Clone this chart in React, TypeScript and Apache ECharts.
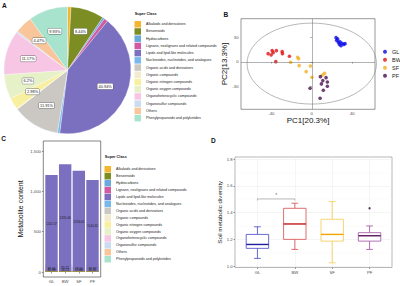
import React, { useEffect, useRef } from 'react';
import * as echarts from 'echarts';

const superClasses = [
  'Alkaloids and derivatives',
  'Benzenoids',
  'Hydrocarbons',
  'Lignans, neolignans and related compounds',
  'Lipids and lipid-like molecules',
  'Nucleosides, nucleotides, and analogues',
  'Organic acids and derivatives',
  'Organic compounds',
  'Organic nitrogen compounds',
  'Organic oxygen compounds',
  'Organoheterocyclic compounds',
  'Organosulfur compounds',
  'Others',
  'Phenylpropanoids and polyketides',
];
const classColors = [
  '#F3B62E', '#7C8D24', '#68A9DE', '#D15AA2', '#7B6FC0', '#78B9EC', '#CBC8C3',
  '#F2EBD0', '#F8F0A0', '#E7F1C8', '#F6C6E4', '#CADCF0', '#F9C69C', '#A8E3CE',
];
// Panel A: share of metabolites (%)
const pieShares = [0.9, 8.44, 0.5, 0.99, 40.94, 0.6, 11.91, 0.2, 2.98, 6.2, 11.17, 0.4, 4.47, 9.93];

// Panel C: metabolite content per group (superClasses order)
const groups = ['GL', 'BW', 'SF', 'PF'];
const contentGL = [3.5, 9, 1, 1.5, 1202.07, 1.5, 89.45, 2, 3, 8, 12, 2, 51.98, 3];
const contentBW = [4, 10, 1, 1.5, 1335.46, 1.6, 95.71, 2, 3, 9, 13, 2, 56.73, 3];
const contentSF = [3.5, 9, 1, 1.5, 1256.61, 1.5, 77.01, 2, 3, 8, 12, 2, 59.88, 3];
const contentPF = [3, 8, 1, 1.5, 1140.32, 1.4, 87.97, 2, 3, 8, 11, 2, 55.81, 3];
const labelledClasses = ['Lipids and lipid-like molecules', 'Organic acids and derivatives', 'Others'];

// Panel B: PCA scores
const pcaGL = [[24, 29.8], [24.6, 26.5], [26.3, 24], [27.3, 21.6], [28.9, 20], [29.9, 22.9], [31.6, 21.6], [32.9, 22.4], [27.9, 24.8], [25.6, 28.2]];
const pcaBW = [[-43.2, 10.2], [-39.2, 13.9], [-40.2, 8.6], [-38.2, 11.4], [-35, 13.9], [-29.3, 12.6], [-29, 10.2], [-22.1, 7], [-35.6, 0.4]];
const pcaSF = [[-14, 5.7], [-13, 4], [-21, -0.4], [-12.5, -4.5], [-5.6, -11.8], [-1.3, -4.9], [0.1, -18.8], [10.7, -15.9], [12.6, -13.9]];
const pcaPF = [[8.5, -18], [14.1, -19.2], [10.9, -22.8], [15.4, -24.5], [9.5, -26.9], [15.4, -29.8], [11.4, -34.7], [-1.7, -32.2], [8.2, -44.5]];
const pcaColors = ['#0A0AE6', '#DD1414', '#F2B01E', '#4B1050'];
const confEllipse = [[0, -2, 64, 49.6]]; // cx, cy, rx, ry

// Panel D: soil metabolic diversity boxplots [x, low, q1, median, q3, high]
const diversityBoxes = [
  [1, 1.058, 1.133, 1.162, 1.237, 1.294],
  [2, 1.125, 1.2, 1.315, 1.432, 1.47],
  [3, 1.025, 1.187, 1.237, 1.35, 1.482],
  [4, 1.125, 1.187, 1.227, 1.25, 1.3],
];
const diversityOutliers = [[4, 1.432]];
const boxColors = ['#4545C8', '#D84A4A', '#F5C94E', '#A14FA1'];
const medianColors = ['#1E1E9E', '#C41A1A', '#F0A400', '#5E145E'];
const sigBracket = [[1, 1.49], [1, 1.502], [2, 1.502], [2, 1.49]];
const sigStar = [[1.5, 1.528]];

const contentByGroup = [contentGL, contentBW, contentSF, contentPF];

export default function App() {
  const ref = useRef<HTMLDivElement>(null);
  useEffect(() => {
    if (!ref.current) return;
    const chart = echarts.init(ref.current, undefined, { renderer: 'svg' });
    const font = 'Liberation Sans';
    const tickLabel = { fontSize: 4.2, color: '#4D4D4D', fontFamily: font };
    const tickStyle = { show: true, length: 1.5, lineStyle: { color: '#333', width: 0.5 } };

    const barSeries: any[] = [];
    for (let k = superClasses.length - 1; k >= 0; k--) {
      const name = superClasses[k];
      const show = labelledClasses.indexOf(name) >= 0;
      barSeries.push({
        type: 'bar',
        name,
        xAxisIndex: 1,
        yAxisIndex: 1,
        stack: 'content',
        barWidth: 12.4,
        itemStyle: { color: classColors[k] },
        label: {
          show,
          position: 'inside',
          fontSize: 3.1,
          lineHeight: 3.2,
          color: '#222',
          formatter: (p: any) => p.value[1].toFixed(2),
        },
        data: groups.map((g, gi) => [gi + 1, contentByGroup[gi][k]]),
      });
    }

    const pcaSets = [pcaGL, pcaBW, pcaSF, pcaPF];
    const scatterSeries: any[] = pcaSets.map((d, i) => ({
      type: 'scatter',
      name: groups[i],
      xAxisIndex: 0,
      yAxisIndex: 0,
      symbolSize: 3.6,
      itemStyle: { color: pcaColors[i] },
      data: d,
      z: 4,
      ...(i === 0
        ? {
            markLine: {
              silent: true,
              symbol: ['none', 'none'],
              label: { show: false },
              lineStyle: { color: '#666', width: 0.5, type: 'solid' },
              data: [{ xAxis: 0 }, { yAxis: 0 }],
            },
          }
        : {}),
    }));

    const option: any = {
      animation: false,
      textStyle: { fontFamily: font },
      title: [
        { text: 'A', left: 2, top: 2, padding: 0, textStyle: { fontSize: 6.5, fontWeight: 'bold', color: '#111', fontFamily: font } },
        { text: 'B', left: 223.5, top: 11, padding: 0, textStyle: { fontSize: 6.5, fontWeight: 'bold', color: '#111', fontFamily: font } },
        { text: 'C', left: 1.3, top: 135, padding: 0, textStyle: { fontSize: 6.5, fontWeight: 'bold', color: '#111', fontFamily: font } },
        { text: 'D', left: 211, top: 136.5, padding: 0, textStyle: { fontSize: 6.5, fontWeight: 'bold', color: '#111', fontFamily: font } },
        { text: 'Super Class', left: 134.7, top: 11.8, padding: 0, textStyle: { fontSize: 3.8, fontWeight: 'bold', color: '#111', fontFamily: font } },
        { text: 'Super Class', left: 104.8, top: 154.5, padding: 0, textStyle: { fontSize: 3.8, fontWeight: 'bold', color: '#111', fontFamily: font } },
      ],
      legend: [
        {
          data: superClasses, orient: 'vertical', left: 134.5, top: 21, padding: 0,
          itemWidth: 6.5, itemHeight: 6.5, itemGap: 0.72, icon: 'rect', selectedMode: false,
          itemStyle: { borderWidth: 0 },
          textStyle: { fontSize: 3.6, lineHeight: 6.5, color: '#222', fontFamily: font },
        },
        {
          data: superClasses, orient: 'vertical', left: 104.5, top: 166, padding: 0,
          itemWidth: 6.5, itemHeight: 6.5, itemGap: 0.42, icon: 'rect', selectedMode: false,
          itemStyle: { borderWidth: 0 },
          textStyle: { fontSize: 3.6, lineHeight: 6.5, color: '#222', fontFamily: font },
        },
        {
          data: groups, orient: 'vertical', left: 383, top: 47.7, padding: 0,
          itemWidth: 4, itemHeight: 4, itemGap: 0, icon: 'circle', selectedMode: false,
          textStyle: { fontSize: 5.5, lineHeight: 8, color: '#222', fontFamily: font },
        },
      ],
      grid: [
        { left: 241, top: 18.7, width: 134, height: 90.6, show: true, borderColor: '#555', borderWidth: 0.6, backgroundColor: 'transparent' },
        { left: 43.3, top: 141, width: 57.4, height: 136, show: true, borderColor: '#333', borderWidth: 0.6, backgroundColor: 'transparent' },
        { left: 235, top: 157, width: 157, height: 110.5, show: true, borderColor: '#888', borderWidth: 0.6, backgroundColor: 'transparent' },
      ],
      xAxis: [
        {
          type: 'value', gridIndex: 0, min: -70, max: 62.5,
          axisLine: { show: false }, splitLine: { show: false },
          axisTick: { ...tickStyle, customValues: [-40, 0, 40] },
          axisLabel: { ...tickLabel, margin: 2.5, customValues: [-40, 0, 40] },
          name: 'PC1[20.3%]', nameLocation: 'middle', nameGap: 5,
          nameTextStyle: { fontSize: 8, color: '#111', fontFamily: font },
        },
        {
          type: 'value', gridIndex: 1, min: 0.4, max: 4.6,
          axisLine: { show: false }, splitLine: { show: false },
          axisTick: { ...tickStyle, customValues: [1, 2, 3, 4] },
          axisLabel: { ...tickLabel, margin: 2.5, customValues: [1, 2, 3, 4], formatter: (v: number) => groups[Math.round(v) - 1] },
        },
        {
          type: 'value', gridIndex: 2, min: 0.4, max: 4.6,
          axisLine: { show: false },
          splitLine: { show: true, customValues: [1, 2, 3, 4], lineStyle: { color: '#EBEBEB', width: 0.5 } },
          axisTick: { ...tickStyle, customValues: [1, 2, 3, 4] },
          axisLabel: { ...tickLabel, margin: 2.5, customValues: [1, 2, 3, 4], formatter: (v: number) => groups[Math.round(v) - 1] },
        },
      ],
      yAxis: [
        {
          type: 'value', gridIndex: 0, min: -58, max: 53,
          axisLine: { show: false }, splitLine: { show: false },
          axisTick: { ...tickStyle, customValues: [-30, 0, 30] },
          axisLabel: { ...tickLabel, margin: 2.5, customValues: [-30, 0, 30] },
          name: 'PC2[13.3%]', nameLocation: 'middle', nameGap: 7,
          nameTextStyle: { fontSize: 8, color: '#111', fontFamily: font },
        },
        {
          type: 'value', gridIndex: 1, min: -62, max: 1625,
          axisLine: { show: false }, splitLine: { show: false },
          axisTick: { ...tickStyle, customValues: [0, 500, 1000, 1500] },
          axisLabel: { ...tickLabel, margin: 2.5, customValues: [0, 500, 1000, 1500], formatter: (v: number) => v.toLocaleString('en-US') },
          name: 'Metabolite content', nameLocation: 'middle', nameGap: 19,
          nameTextStyle: { fontSize: 7, color: '#111', fontFamily: font },
        },
        {
          type: 'value', gridIndex: 2, min: 0.99, max: 1.815,
          axisLine: { show: false },
          splitLine: { show: true, lineStyle: { color: '#EBEBEB', width: 0.5 } },
          minorTick: { show: false, splitNumber: 2 },
          minorSplitLine: { show: true, lineStyle: { color: '#F4F4F4', width: 0.4 } },
          axisTick: { ...tickStyle, customValues: [1, 1.2, 1.4, 1.6, 1.8] },
          axisLabel: { ...tickLabel, margin: 2.5, customValues: [1, 1.2, 1.4, 1.6, 1.8], formatter: (v: number) => v.toFixed(1) },
          name: 'Soil metabolic diversity', nameLocation: 'middle', nameGap: 11,
          nameTextStyle: { fontSize: 6.2, color: '#111', fontFamily: font },
        },
      ],
      series: [
        {
          type: 'pie',
          name: 'share',
          center: [67.5, 70.3],
          radius: 63.5,
          startAngle: 90,
          clockwise: true,
          silent: true,
          label: { show: false },
          labelLine: { show: false },
          itemStyle: { borderColor: '#fff', borderWidth: 0.3 },
          data: superClasses.map((n, i) => ({ name: n, value: pieShares[i], itemStyle: { color: classColors[i] } })),
        },
        {
          type: 'pie',
          name: 'shareLabels',
          center: [67.5, 70.3],
          radius: 76,
          startAngle: 90,
          clockwise: true,
          silent: true,
          labelLine: { show: false },
          itemStyle: { color: 'rgba(0,0,0,0)' },
          data: superClasses.map((n, i) => ({
            name: n,
            value: pieShares[i],
            label: {
              show: pieShares[i] >= 0.95,
              position: 'inside',
              formatter: pieShares[i] + '%',
              fontSize: 3.9,
              color: '#222',
              backgroundColor: '#fff',
              borderColor: '#555',
              borderWidth: 0.4,
              borderRadius: 1,
              padding: [0.8, 1.2],
            },
          })),
        },
        ...scatterSeries,
        {
          type: 'custom',
          name: 'ellipse',
          xAxisIndex: 0,
          yAxisIndex: 0,
          silent: true,
          z: 1,
          data: confEllipse,
          renderItem: (params: any, api: any) => {
            const c = api.coord([api.value(0), api.value(1)]);
            const s = api.size([api.value(2), api.value(3)]);
            return {
              type: 'ellipse',
              shape: { cx: c[0], cy: c[1], rx: s[0], ry: s[1] },
              style: { fill: 'none', stroke: '#888', lineWidth: 0.6 },
            };
          },
        },
        ...barSeries,
        {
          type: 'custom',
          name: 'diversity',
          xAxisIndex: 2,
          yAxisIndex: 2,
          silent: true,
          z: 3,
          data: diversityBoxes,
          renderItem: (params: any, api: any) => {
            const x = api.value(0);
            const lo = api.coord([x, api.value(1)]);
            const q1 = api.coord([x, api.value(2)]);
            const md = api.coord([x, api.value(3)]);
            const q3 = api.coord([x, api.value(4)]);
            const hi = api.coord([x, api.value(5)]);
            const bw = api.size([0.6, 0])[0];
            const cw = api.size([0.18, 0])[0];
            const i = params.dataIndex;
            const ls = { stroke: boxColors[i], lineWidth: 0.8, fill: 'none' };
            return {
              type: 'group',
              children: [
                { type: 'line', shape: { x1: hi[0], y1: hi[1], x2: q3[0], y2: q3[1] }, style: ls },
                { type: 'line', shape: { x1: lo[0], y1: lo[1], x2: q1[0], y2: q1[1] }, style: ls },
                { type: 'line', shape: { x1: hi[0] - cw / 2, y1: hi[1], x2: hi[0] + cw / 2, y2: hi[1] }, style: ls },
                { type: 'line', shape: { x1: lo[0] - cw / 2, y1: lo[1], x2: lo[0] + cw / 2, y2: lo[1] }, style: ls },
                { type: 'rect', shape: { x: q3[0] - bw / 2, y: q3[1], width: bw, height: q1[1] - q3[1] }, style: { fill: '#fff', stroke: boxColors[i], lineWidth: 0.8 } },
                { type: 'line', shape: { x1: md[0] - bw / 2, y1: md[1], x2: md[0] + bw / 2, y2: md[1] }, style: { stroke: medianColors[i], lineWidth: 1.4 } },
              ],
            };
          },
        },
        {
          type: 'scatter',
          name: 'outliers',
          xAxisIndex: 2,
          yAxisIndex: 2,
          symbolSize: 2.4,
          itemStyle: { color: '#3A0A3A' },
          z: 4,
          data: diversityOutliers,
        },
        {
          type: 'line',
          name: 'bracket',
          xAxisIndex: 2,
          yAxisIndex: 2,
          symbol: 'none',
          lineStyle: { color: '#8A8A8A', width: 0.6 },
          z: 4,
          data: sigBracket,
        },
        {
          type: 'scatter',
          name: 'star',
          xAxisIndex: 2,
          yAxisIndex: 2,
          symbolSize: 1,
          itemStyle: { color: 'rgba(0,0,0,0)' },
          label: { show: true, position: 'inside', formatter: '*', fontSize: 5, color: '#444' },
          data: sigStar,
        },
      ],
    };
    chart.setOption(option);
    return () => chart.dispose();
  }, []);
  return <div ref={ref} style={{ position: 'absolute', left: 0, top: 0, width: 400, height: 286, background: '#fff' }} />;
}
